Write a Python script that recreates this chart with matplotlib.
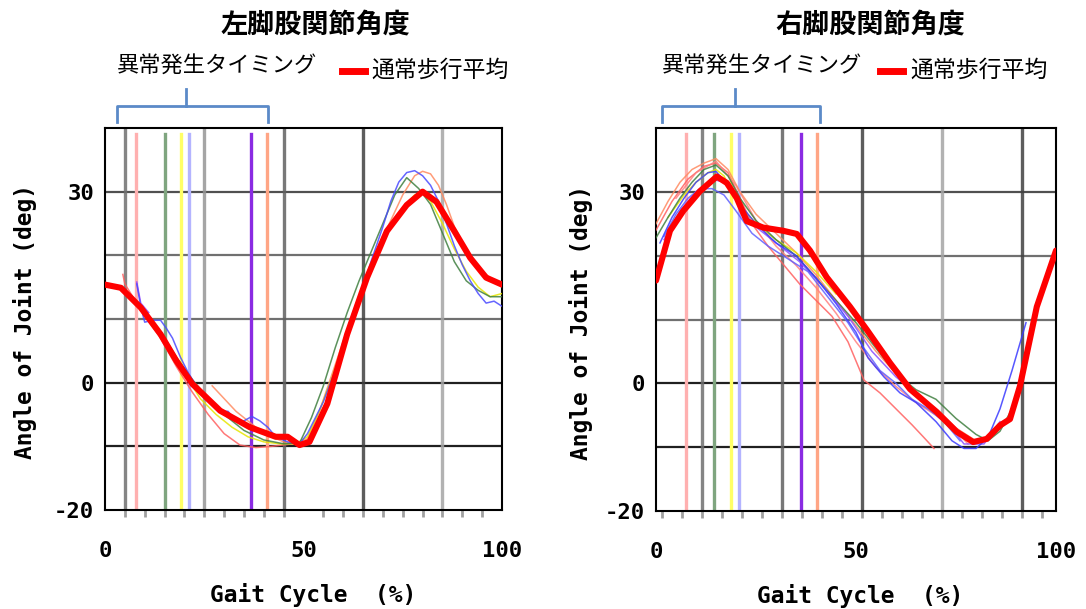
import matplotlib
matplotlib.use('Agg')
from matplotlib import pyplot as plt
from matplotlib import transforms
import numpy as np

# ---- data ----
titles = ['左脚股関節角度', '右脚股関節角度']
timing_label = '異常発生タイミング'
mean_label = '通常歩行平均'

# left hip
left_mean_x = [0, 4, 9, 14, 18, 22, 29, 36.5, 43, 46, 49, 51.5, 56, 61, 66, 71, 76, 80, 83.5, 88, 92, 96, 100]
left_mean_y = [15.4, 14.9, 11.8, 7.6, 3.4, -0.2, -4.4, -7, -8.5, -8.5, -9.8, -9.3, -3.3, 7.6, 16.5, 23.8, 27.9, 30, 28.4, 23.8, 19.6, 16.5, 15.4]

left_red_x = [4.5, 5, 7, 10, 14, 18, 22, 26, 30, 34, 38, 42, 46, 49]
left_red_y = [17, 15.5, 13.5, 10.5, 7, 2.5, -1.5, -5, -8, -9.8, -10.2, -10, -9.7, -9.5]
left_blue_x = [8, 9, 10, 12, 14, 15.5, 17, 19, 21, 23, 26, 29, 31, 33, 35, 37, 39, 41, 43, 46, 49, 51, 53, 55, 58, 61,
               64, 67, 70, 72, 74, 76, 78, 80, 82, 84, 86, 88, 90, 92, 94, 96, 98, 100]
left_blue_y = [15.5, 12, 9.5, 9.8, 9.8, 8.5, 7, 4, 1.5, -0.5, -2.5, -4.5, -4.5, -6, -6, -5.3, -6, -7, -8.5, -9.3, -9.6,
               -8, -5.5, -3, 2, 7.5, 13, 19, 24.5, 28.5, 31.5, 33, 33.3, 32.5, 31, 28.5, 25, 21.5, 18.5, 16, 14, 12.5, 12.8, 12]
left_green_x = [10, 14, 18, 22, 26, 30, 35, 40, 45, 49, 52, 55, 58, 61, 64, 67, 70, 73, 76, 79, 82, 85, 88, 91, 94, 97, 100]
left_green_y = [11, 8, 4, 0.5, -2.5, -5, -7.5, -9, -9.6, -9.5, -5.5, -0.5, 5.5, 11, 16, 20.5, 25, 29.5, 32.2, 30.5, 28,
                23.5, 19, 16, 14.5, 13.5, 13.5]
left_yellow_x = [16, 20, 24, 28, 32, 36, 40, 44, 48, 51, 54, 57, 60, 63, 66, 69, 72, 75, 78, 80, 82, 85, 88, 91, 94, 97, 100]
left_yellow_y = [6, 1.5, -2.5, -5, -7, -8.5, -9.3, -9.6, -9.6, -8.5, -4.5, 0.5, 6, 11.5, 17, 21, 24.5, 27.5, 29.5, 29.7,
                 28.5, 25, 21, 17.5, 15, 13.5, 14]
left_salmon_x = [27, 30, 33, 36, 39, 42, 45, 48, 51, 54, 57, 60, 63, 66, 69, 72, 75, 78, 80, 82, 84, 86, 88, 90, 92, 95, 98, 100]
left_salmon_y = [-0.5, -2.5, -4.5, -6, -7.5, -8.5, -9.3, -9.6, -8.8, -4.5, 1, 6.5, 12, 17, 21.5, 25.5, 29.5, 32.5, 33.2,
                 32.8, 31, 28, 24.5, 22, 20, 17.5, 16, 15.5]
left_purple_x = [8, 9, 11]
left_purple_y = [15.8, 12.5, 11]

# right hip
right_mean_x = [0, 3.5, 6.8, 11, 15.2, 17.7, 20.2, 22.7, 26.8, 31.8, 35.2, 38.5, 42.7, 48.5, 52.7, 58.5, 63.5, 70.2,
                75.2, 79.3, 82.7, 86, 88.5, 91, 95.2, 100]
right_mean_y = [16.1, 23.9, 27, 30.1, 32.4, 31.4, 29, 25.4, 24.4, 23.9, 23.4, 20.8, 16.6, 12, 8.4, 3.2, -0.9, -4.5,
                -7.6, -9.2, -8.7, -6.6, -5.6, -0.4, 12, 20.8]

right_salmon_x = [0, 3, 6, 9, 12, 15, 18, 21, 25, 30, 35, 40, 45, 50, 55, 60, 65, 70, 75, 80]
right_salmon_y = [25, 28.5, 31.5, 33.5, 34.5, 35.2, 33.5, 30, 26.5, 23.5, 20.5, 17, 13, 9, 5, 1.5, -1.5, -4, -7, -9]
right_green_x = [0, 3, 6, 9, 12, 15, 18, 21, 25, 30, 35, 40, 45, 50, 55, 60, 65, 70, 75, 80, 83, 86, 89, 91]
right_green_y = [22.8, 26, 29, 31.5, 33.5, 34.2, 32.5, 29, 25.5, 22.5, 20, 16.5, 13, 9.5, 5.5, 1.5, -1, -2.5, -5.5, -8,
                 -9, -7.5, -4, 0]
right_blue_x = [1, 4, 7, 10, 13, 15, 18, 21, 25, 30, 35, 40, 45, 50, 53, 57, 61, 65, 70, 74, 77, 80, 83, 86, 89, 92.5]
right_blue_y = [22, 26, 29, 31.5, 33, 33.2, 31, 28, 25, 22, 20, 16.5, 12.5, 8, 4, 1, -1.5, -3, -6, -9, -10.2, -10.2,
                -8.5, -4, 2, 9.5]
right_blue2_x = [2, 5, 8, 11, 14, 17, 20, 24, 28, 33, 38, 43, 48, 52, 56, 60, 64, 68, 72, 76]
right_blue2_y = [23, 26.5, 29, 30.5, 30.5, 29.5, 27, 23.5, 21.5, 19.5, 17.5, 13.5, 9.5, 5.5, 2, 0, -2.5, -4, -6, -9]
right_yellow_x = [3, 7, 10, 13, 15, 17, 19, 22, 26, 30, 35, 40, 45]
right_yellow_y = [26, 29.5, 31.5, 33, 33.5, 32.5, 30, 27, 24.5, 22.5, 20.5, 17.5, 14]
right_purple_x = [2, 6, 10, 14, 17, 20, 24, 30, 36, 42, 48, 54, 60, 66, 72, 77, 82, 86]
right_purple_y = [22.5, 27, 30, 32, 31.5, 29, 25, 22, 19, 15, 10.5, 5, 1, -2, -5.5, -9.5, -9.5, -6]
right_pink_x = [0, 4, 8, 12, 15, 18, 21, 24, 28, 32, 36, 40, 44, 48, 52, 56, 60, 64, 67, 69.5]
right_pink_y = [24, 28.5, 32, 34, 34.5, 33, 29, 25, 21.5, 18.5, 15.5, 13, 10.5, 6.5, 0.5, -1.5, -4, -6.5, -8.5, -10.2]
right_pink2_x = [5, 10, 15, 20, 25, 30, 35, 40, 45, 50, 55, 60, 65, 70, 75, 78]
right_pink2_y = [29, 33, 34.8, 31, 25.5, 21.5, 18.5, 15, 11, 6.5, 2.5, -0.5, -3, -5, -7.5, -9.5]

# timing markers and vertical grid
left_timing = [7.8, 15, 19.2, 21.2, 36.8, 40.7]
right_timing = [7.5, 14.5, 18.7, 20.7, 36.2, 40.2]
timing_colors = ['#ffb0b0', '#7fa57f', '#ffff66', '#b4b4ff', '#8a2be2', '#ffa585']
left_vgrid = [5, 25, 45, 65, 85]
right_vgrid = [11.5, 31.5, 51.5, 71.5, 91.5]
left_vgrid_c = ['#707070', '#959595', '#606060', '#404040', '#a5a5a5']
right_vgrid_c = ['#707070', '#606060', '#404040', '#a5a5a5', '#404040']
hgrid = [30, 20, 10, 0, -10]
hgrid_c = ['#505050', '#707070', '#707070', '#202020', '#202020']
left_bracket = (3, 41)
right_bracket = (1.5, 41)

left_traces = [(left_red_x, left_red_y, '#ff6060'), (left_purple_x, left_purple_y, '#9040ff'),
               (left_salmon_x, left_salmon_y, '#ff8a60'), (left_yellow_x, left_yellow_y, '#e6e600'),
               (left_green_x, left_green_y, '#3f7f3f'), (left_blue_x, left_blue_y, '#4a4aff')]
right_traces = [(right_pink_x, right_pink_y, '#ff6060'), (right_pink2_x, right_pink2_y, '#ff8080'),
                (right_salmon_x, right_salmon_y, '#ff8a60'), (right_yellow_x, right_yellow_y, '#e6e600'),
                (right_green_x, right_green_y, '#3f7f3f'), (right_purple_x, right_purple_y, '#8a50ff'),
                (right_blue2_x, right_blue2_y, '#6060ff'), (right_blue_x, right_blue_y, '#3a3aff')]

mono = 'DejaVu Sans Mono'
cjk = ['Noto Sans CJK JP', 'DejaVu Sans']

fig = plt.figure(figsize=(10.86, 6.09), dpi=100)
ax1 = fig.add_axes([105 / 1086, 99 / 609, 397 / 1086, 382 / 609])
ax2 = fig.add_axes([656 / 1086, 98 / 609, 400 / 1086, 383 / 609])


def draw_panel(ax, title, vgrid, vgrid_c, timing, traces, mx, my, bracket, xtick0,
               title_x, timing_x, leg_x, ylab_x, xlab_x):
    ax.set_xlim(0, 100)
    ax.set_ylim(-20, 40)
    for y, c in zip(hgrid, hgrid_c):
        ax.axhline(y, color=c, lw=1.6, zorder=1)
    for x, c in zip(vgrid, vgrid_c):
        ax.axvline(x, color=c, lw=2.4, alpha=0.85, zorder=1)
    for x, c in zip(timing, timing_colors):
        ax.axvline(x, ymax=0.985, color=c, lw=2.4, zorder=2)
    for tx, ty, c in traces:
        ax.plot(tx, ty, color=c, lw=1.1, alpha=0.85, zorder=3)
    ax.plot(mx, my, color='#ff0000', lw=4.4, solid_capstyle='round', zorder=4)

    for s in ax.spines.values():
        s.set_color('black')
        s.set_linewidth(1.5)
    ax.set_yticks([30, 0, -20])
    ax.set_yticklabels(['30', '0', '-20'])
    ax.set_xticks([0, 50, 100])
    ax.set_xticklabels(['0', '50', '100'])
    ax.set_xticks(np.arange(xtick0, 100, 5), minor=True)
    ax.tick_params(axis='x', which='major', length=0, pad=22)
    ax.tick_params(axis='x', which='minor', length=5, width=2, color='#a0a0a0', direction='out')
    ax.tick_params(axis='y', which='major', length=0, pad=8)
    for lab in ax.get_xticklabels() + ax.get_yticklabels():
        lab.set_family(mono)
        lab.set_fontweight('bold')
        lab.set_fontsize(16)

    ax.set_ylabel('Angle of Joint (deg)', family=mono, fontweight='bold', fontsize=16.5)
    ax.yaxis.set_label_coords(ylab_x, 0.493)
    ax.set_xlabel('Gait Cycle  (%)', family=mono, fontweight='bold', fontsize=16.5)
    ax.xaxis.set_label_coords(xlab_x, -0.19)

    ax.text(title_x, 1.27, title, transform=ax.transAxes, ha='center', va='center',
            family=cjk, fontweight='bold', fontsize=19.5)
    ax.text(timing_x, 1.163, timing_label, transform=ax.transAxes, ha='center', va='center',
            family=cjk, fontsize=16)
    ax.plot([leg_x, leg_x + 0.058], [1.15, 1.15], transform=ax.transAxes, color='#ff0000',
            lw=5, clip_on=False)
    ax.text(leg_x + 0.075, 1.152, mean_label, transform=ax.transAxes, ha='left', va='center',
            family=cjk, fontsize=16.5)

    # bracket over the timing markers
    tr = transforms.blended_transform_factory(ax.transData, ax.transAxes)
    b0, b1 = bracket
    bc = (b0 + b1) / 2 - 1.5
    ax.plot([b0, b0, b1, b1], [1.016, 1.058, 1.058, 1.016], transform=tr,
            color='#5b8ac8', lw=2, clip_on=False, solid_joinstyle='round')
    ax.plot([bc, bc], [1.058, 1.102], transform=tr, color='#5b8ac8', lw=2, clip_on=False)


draw_panel(ax1, titles[0], left_vgrid, left_vgrid_c, left_timing, left_traces,
           left_mean_x, left_mean_y, left_bracket, 5, 0.529, 0.282, 0.597, -0.171, 0.524)
draw_panel(ax2, titles[1], right_vgrid, right_vgrid_c, right_timing, right_traces,
           right_mean_x, right_mean_y, right_bracket, 1.5, 0.535, 0.265, 0.56, -0.158, 0.51)

fig.savefig('out.png', dpi=100)
